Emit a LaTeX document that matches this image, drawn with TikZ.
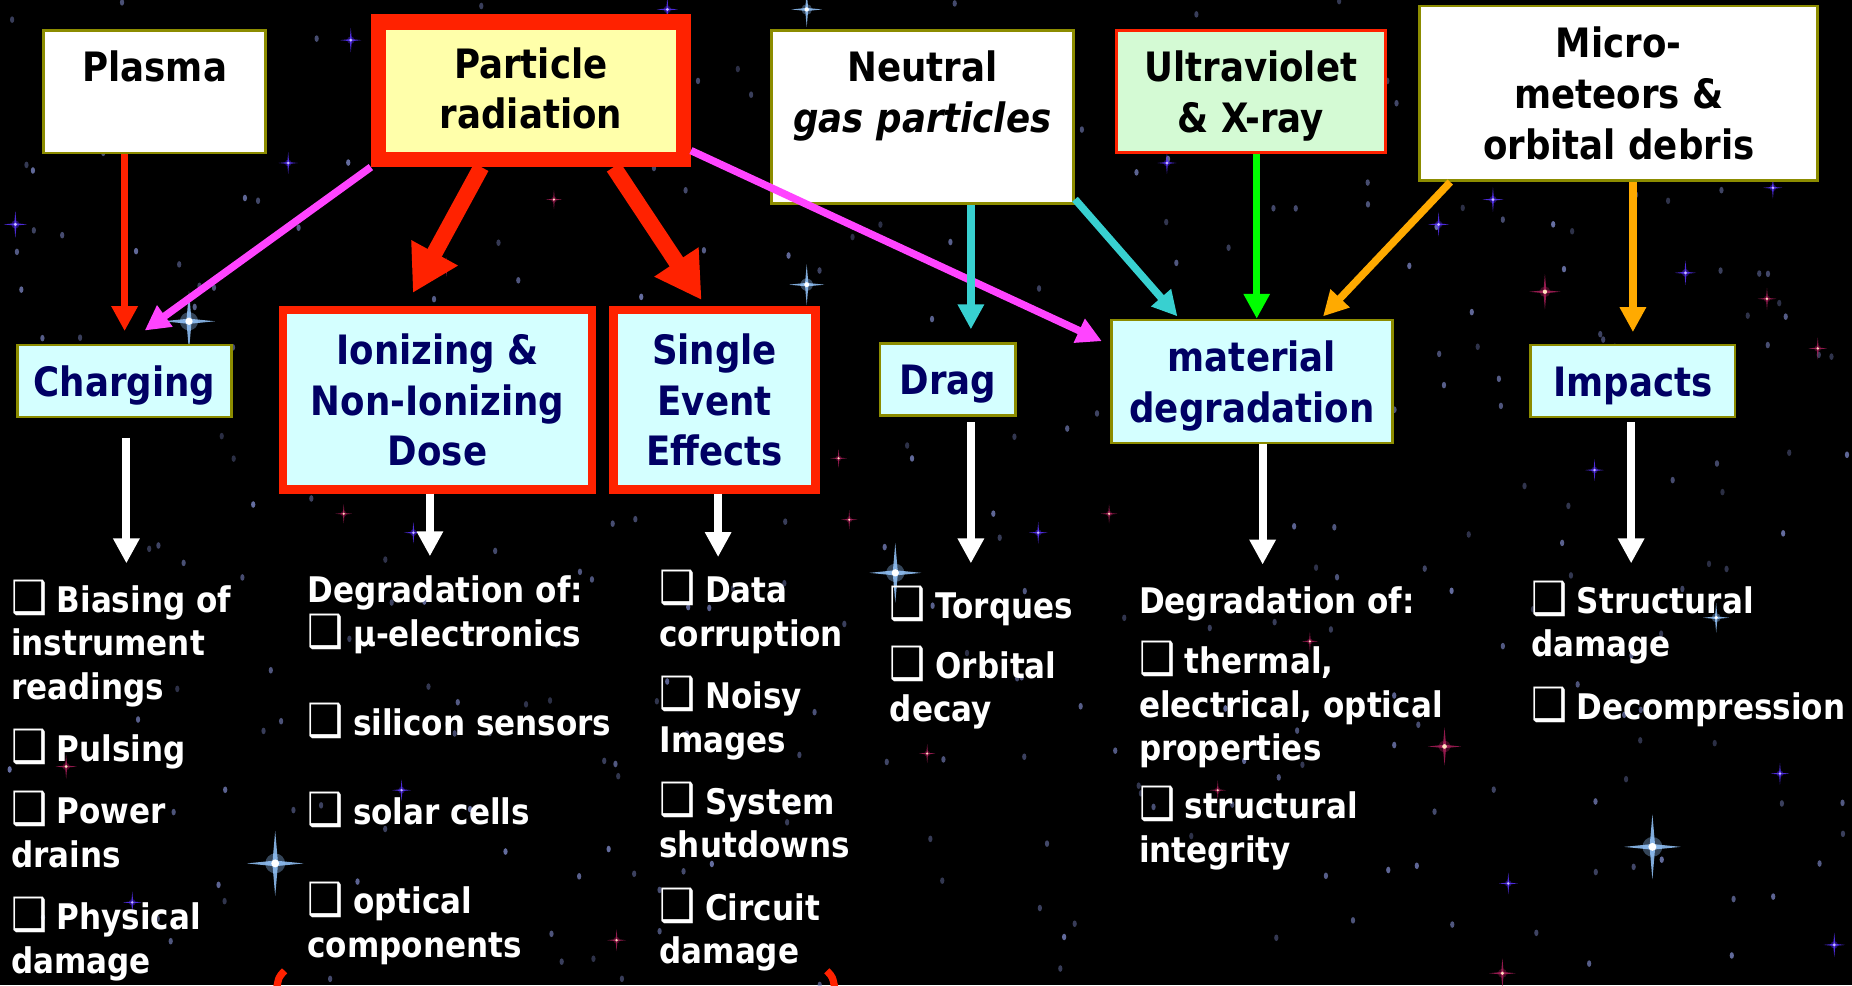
\documentclass[tikz,border=0pt]{standalone}
\usepackage{fontspec}
\setmainfont{DejaVu Sans}[FakeStretch=0.88]
\usetikzlibrary{arrows.meta,calc}

\definecolor{radred}{RGB}{255,34,0}
\definecolor{boxolive}{RGB}{140,140,0}
\definecolor{boxnavy}{RGB}{0,0,100}
\definecolor{icecyan}{RGB}{212,255,255}
\definecolor{paleyellow}{RGB}{255,255,170}
\definecolor{palegreen}{RGB}{212,250,212}
\definecolor{linkmagenta}{RGB}{255,68,255}
\definecolor{linkcyan}{RGB}{56,208,208}
\definecolor{linkgreen}{RGB}{0,255,0}
\definecolor{linkorange}{RGB}{255,170,0}
\definecolor{stardim}{RGB}{120,130,190}
\definecolor{starsky}{RGB}{150,200,255}
\definecolor{starviolet}{RGB}{90,50,255}
\definecolor{starlilac}{RGB}{200,190,255}
\definecolor{starrose}{RGB}{170,30,90}
\definecolor{starpeach}{RGB}{255,225,190}

\newlength{\pu}
\setlength{\pu}{0.02cm}
\newcommand{\ls}{\rule[-0.2\baselineskip]{0pt}{\baselineskip}}
\newcommand{\bx}{\makebox[22pt][l]{\raisebox{-0.5pt}{\scalebox{1.3}{❑}}}}

\begin{document}
\begin{tikzpicture}[x=0.02cm, y=-0.02cm,
    box/.style={rectangle, draw=boxolive, line width=1.3pt, fill=icecyan, text=boxnavy,
      align=center, inner sep=0pt, font=\fontsize{19.5}{24.4}\selectfont\bfseries},
    srcbox/.style={box, fill=white, text=black},
    hotbox/.style={box, draw=radred, line width=4pt},
    itemlist/.style={anchor=north west, align=left, inner sep=0pt, text=white,
      font=\fontsize{17}{21}\selectfont\bfseries},
    link/.style={line width=3.6pt, -{Triangle[length=12pt, width=12pt]}},
    fat/.style={radred, line width=7.8pt, -{Triangle[length=22pt, width=24pt]}},
    whiteflow/.style={white, line width=3.8pt, -{Triangle[length=12pt, width=12pt]}},
    pics/sparkle/.style n args={3}{code={
      \fill[#2, opacity=0.35] (0,0) circle ({0.35*#1});
      \fill[#2, opacity=0.85] (-#1,0) -- (0,{0.1*#1}) -- (#1,0) -- (0,{-0.1*#1}) -- cycle;
      \fill[#2, opacity=0.85] (0,{-1.15*#1}) -- ({0.1*#1},0) -- (0,{1.15*#1}) -- ({-0.1*#1},0) -- cycle;
      \fill[#3] (0,0) circle ({0.14*#1});
    }}
  ]
  \useasboundingbox (0,0) rectangle (1568,834);
  \fill[black] (0,0) rectangle (1568,834);

  % Star field
  \pgfmathsetseed{2718}
  \foreach \k in {1,...,320}{
    \pgfmathsetmacro{\sx}{rnd*1568}
    \pgfmathsetmacro{\sy}{rnd*834}
    \pgfmathsetmacro{\so}{0.35+0.5*rnd}
    \fill[stardim, opacity=\so] (\sx,\sy) ellipse (1.8 and 2.8);
  }
  \foreach \sx/\sy/\sr in {160/272/22, 233/731/24, 1399/717/24, 758/485/22, 683/241/15,
      1453/523/11, 683/8/13}
    \pic at (\sx,\sy) {sparkle={\sr}{starsky}{white}};
  \foreach \sx/\sy/\sr in {297/34/9, 244/138/8, 13/190/10, 340/669/8, 112/764/8, 350/451/8,
      1264/169/9, 1218/190/9, 1427/231/9, 1501/159/8, 988/138/8, 1350/398/8, 879/451/8,
      1277/748/8, 1507/655/8, 1553/800/9, 565/8/9}
    \pic at (\sx,\sy) {sparkle={\sr}{starviolet}{starlilac}};
  \foreach \sx/\sy/\sr in {1308/247/13, 1223/632/14, 56/649/9, 522/796/8, 291/435/7,
      710/388/7, 719/440/7, 939/435/7, 1031/669/7, 1272/824/11, 1109/543/7, 785/638/7,
      1496/253/8, 1539/295/8, 469/169/7, 378/226/7}
    \pic at (\sx,\sy) {sparkle={\sr}{starrose}{starpeach}};

  % Sources
  \node[srcbox, minimum width=188\pu, minimum height=103.5\pu] (plasma) at (131,77.75) {\ls Plasma\\\ls};
  \node[srcbox, draw=radred, line width=7.4pt, fill=paleyellow, minimum width=258\pu,
    minimum height=116.5\pu] (prad) at (449.5,76.75) {\ls Particle\\\ls radiation\rule[-7pt]{0pt}{0pt}};
  \node[srcbox, minimum width=256\pu, minimum height=146.5\pu] (neutral) at (781,99.3)
    {\ls Neutral\\\textit{gas particles}\\\ls};
  \node[srcbox, draw=radred, fill=palegreen, minimum width=228\pu, minimum height=103\pu] (uvx)
    at (1059,77.5) {\ls Ultraviolet\\\ls\& X-ray};
  \node[srcbox, minimum width=337\pu, minimum height=148\pu] (micro) at (1370.5,79)
    {\ls Micro-\\meteors \&\\\ls orbital debris};

  % Effects
  \node[box, minimum width=181\pu, minimum height=61\pu] (charging) at (105.5,322.5) {\ls Charging};
  \node[hotbox, minimum width=262\pu, minimum height=152\pu] (dose) at (370.5,338.5)
    {\ls Ionizing \&\\Non-Ionizing\\\ls Dose};
  \node[hotbox, minimum width=171\pu, minimum height=152\pu] (see) at (605,338.5)
    {\ls Single\\Event\\\ls Effects};
  \node[box, minimum width=115\pu, minimum height=61\pu] (drag) at (802.5,321.5) {\ls Drag};
  \node[box, minimum width=238\pu, minimum height=104\pu] (matdeg) at (1060,323)
    {\ls material\\\ls degradation};
  \node[box, minimum width=173\pu, minimum height=61\pu] (impacts) at (1382.5,322.5) {\ls Impacts};

  % Consequences
  \node[itemlist] (chargingList) at (9,488.4) {\ls\bx Biasing of\\instrument\\readings\\[9pt]
    \bx Pulsing\\[9pt]\bx Power\\drains\\[9pt]\bx Physical\\damage};
  \node[itemlist] (doseList) at (260,480.4) {\ls Degradation of:\\\bx μ-electronics\\[22pt]
    \bx silicon sensors\\[22pt]\bx solar cells\\[22pt]\bx optical\\components};
  \node[itemlist] (seeList) at (558,480.4) {\ls\bx Data\\corruption\\[9pt]\bx Noisy\\Images\\[9pt]
    \bx System\\shutdowns\\[9pt]\bx Circuit\\damage};
  \node[itemlist] (dragList) at (753,493.4) {\ls\bx Torques\\[8pt]\bx Orbital\\decay};
  \node[itemlist] (matdegList) at (964,489.4) {\ls Degradation of:\\[8pt]\bx thermal,\\
    electrical, optical\\properties\\[7pt]\bx structural\\integrity};
  \node[itemlist] (impactsList) at (1296,489.4) {\ls\bx Structural\\damage\\[9pt]\bx Decompression};

  % Sources to effects
  \draw[link, radred, shorten >=6pt] (plasma.south -| charging.north) -- (charging.north);
  \draw[link, linkmagenta] (prad.south west) -- ($(charging.north)+(17,-11)$);
  \draw[fat] ($(prad.south)+(-42,0)$) -- ($(dose.north)+(-21,-11)$);
  \draw[fat] ($(prad.south)+(70,0)$) -- ($(see.north)+(-11,-5)$);
  \draw[link, linkmagenta] ($(prad.south east)+(0,-14)$) -- ($(matdeg.north west)+(-7,19)$);
  \coordinate (dragIn) at ($(drag.north)+(19.5,-11)$);
  \draw[link, linkcyan] (neutral.south -| dragIn) -- (dragIn);
  \draw[link, linkcyan] ($(neutral.south east)+(0,-5)$) -- ($(matdeg.north west)+(57,-2)$);
  \coordinate (uvOut) at ($(uvx.south)+(5,0)$);
  \draw[link, linkgreen] (uvOut) -- (uvOut |- matdeg.north);
  \draw[link, linkorange] ($(micro.south west)+(27,0)$) -- ($(matdeg.north east)+(-60,-2)$);
  \draw[link, linkorange, shorten >=5.5pt] (impacts.north |- micro.south) -- (impacts.north);

  % Effects to consequences
  \coordinate (chargingTip) at (107,477);
  \coordinate (doseTip) at (364,471);
  \coordinate (seeTip) at (608,471.6);
  \coordinate (dragTip) at (822,477);
  \coordinate (matdegTip) at (1069,478);
  \coordinate (impactsTip) at (1381,477);
  \draw[whiteflow, shorten <=9.5pt] (charging.south -| chargingTip) -- (chargingTip);
  \draw[whiteflow] (dose.south -| doseTip) -- (doseTip);
  \draw[whiteflow] (see.south -| seeTip) -- (seeTip);
  \draw[whiteflow, shorten <=2.3pt] (drag.south -| dragTip) -- (dragTip);
  \draw[whiteflow] (matdeg.south -| matdegTip) -- (matdegTip);
  \draw[whiteflow, shorten <=1.7pt] (impacts.south -| impactsTip) -- (impactsTip);

  % Ends of a bracket below the frame
  \draw[radred, line width=3.5pt] (241,822) .. controls (236,827) .. (234,838);
  \draw[radred, line width=3.5pt] (700,822) .. controls (705,827) .. (707,838);
\end{tikzpicture}
\end{document}
